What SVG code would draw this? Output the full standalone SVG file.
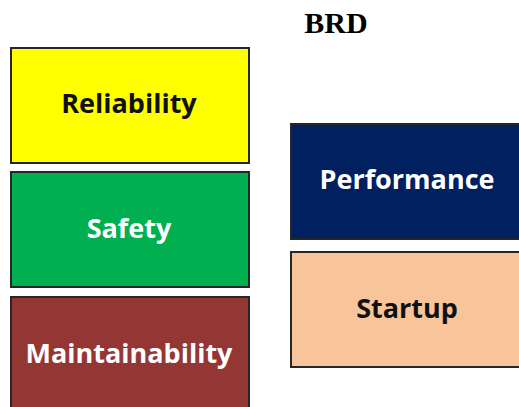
<svg xmlns="http://www.w3.org/2000/svg" width="519" height="407" viewBox="0 0 519 407">
<style>
.box{stroke:#262626;stroke-width:2}
.lbl{font-family:"Open Sans",Lato,sans-serif;font-weight:bold;font-size:27px;text-anchor:middle}
.title{font-family:"Liberation Serif",serif;font-weight:bold;font-size:30px;text-anchor:middle}
</style>
<rect width="519" height="407" fill="#ffffff"/>
<text class="title" x="336" y="33">BRD</text>
<g id="reliability"><rect class="box" x="11" y="48" width="238" height="115" fill="#ffff00"/><text class="lbl" x="129" y="113" fill="#111">Reliability</text></g>
<g id="safety"><rect class="box" x="11" y="172" width="238" height="115" fill="#00b050"/><text class="lbl" x="129" y="238" fill="#fff">Safety</text></g>
<g id="maintainability"><rect class="box" x="11" y="297" width="238" height="115" fill="#943634"/><text class="lbl" x="129" y="363" fill="#fff">Maintainability</text></g>
<g id="performance"><rect class="box" x="291" y="124" width="238" height="115" fill="#002060"/><text class="lbl" x="407" y="189" fill="#fff">Performance</text></g>
<g id="startup"><rect class="box" x="291" y="252" width="238" height="115" fill="#f8c49a"/><text class="lbl" x="407" y="318" fill="#111">Startup</text></g>
<g id="connectors"></g>
</svg>
